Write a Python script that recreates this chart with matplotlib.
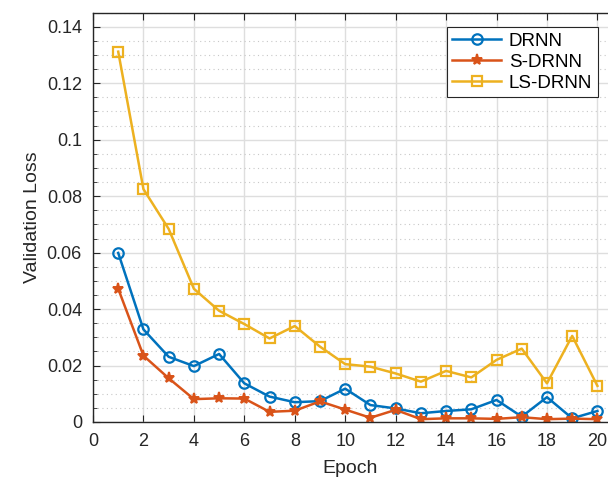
import matplotlib
matplotlib.use("Agg")
import matplotlib.pyplot as plt
from matplotlib.ticker import MultipleLocator

plt.rcParams['font.family'] = ['Liberation Sans', 'DejaVu Sans']

epochs = list(range(1, 21))
drnn = [0.0599, 0.0328, 0.0231, 0.0198, 0.0241, 0.0137, 0.0090, 0.0070, 0.0074, 0.0118,
        0.0060, 0.0048, 0.0031, 0.0039, 0.0045, 0.0078, 0.0019, 0.0088, 0.0013, 0.0039]
s_drnn = [0.0472, 0.0235, 0.0155, 0.0081, 0.0084, 0.0083, 0.0036, 0.0040, 0.0073, 0.0044,
          0.0015, 0.0043, 0.0010, 0.0013, 0.0013, 0.0011, 0.0017, 0.0010, 0.0012, 0.0010]
ls_drnn = [0.1312, 0.0825, 0.0684, 0.0472, 0.0394, 0.0347, 0.0296, 0.0340, 0.0267, 0.0205,
           0.0196, 0.0172, 0.0143, 0.0181, 0.0158, 0.0220, 0.0260, 0.0137, 0.0305, 0.0128]
labels = ['DRNN', 'S-DRNN', 'LS-DRNN']
colors = ['#0072BD', '#D95319', '#EDB120']

W, H = 608, 478
fig = plt.figure(figsize=(W / 100, H / 100), dpi=100)
ax = fig.add_axes([93 / W, 56 / H, (608 - 93) / W, (422 - 12.7) / H])

ax.plot(epochs, drnn, color=colors[0], lw=1.8, marker='o', ms=7.5, mfc='none', mew=1.6, label=labels[0])
ax.plot(epochs, s_drnn, color=colors[1], lw=1.8, marker='*', ms=8, mfc=colors[1], mew=1.4, label=labels[1])
ax.plot(epochs, ls_drnn, color=colors[2], lw=1.8, marker='s', ms=6.5, mfc='none', mew=1.6, label=labels[2])

ax.set_xlim(0, 20.42)
ax.set_ylim(0, 0.145)
ax.xaxis.set_major_locator(MultipleLocator(2))
ax.yaxis.set_major_locator(MultipleLocator(0.02))
ax.yaxis.set_minor_locator(MultipleLocator(0.005))
ax.set_yticks([0, 0.02, 0.04, 0.06, 0.08, 0.1, 0.12, 0.14])
ax.set_yticklabels(['0', '0.02', '0.04', '0.06', '0.08', '0.1', '0.12', '0.14'])

ax.grid(True, which='major', color='#dedede', lw=1.0)
ax.grid(True, which='minor', axis='y', color='#c8c8c8', lw=0.8, ls=(0, (1, 3)))
ax.set_axisbelow(True)

for s in ['left', 'bottom', 'top']:
    ax.spines[s].set_color('#262626')
    ax.spines[s].set_linewidth(1.0)
ax.spines['right'].set_visible(False)

ax.tick_params(which='both', direction='in', top=True, right=False, colors='#262626',
               labelsize=13, labelcolor='#262626')
ax.tick_params(which='major', length=5)
ax.tick_params(which='minor', length=3)
ax.tick_params(axis='both', which='major', pad=8)

ax.set_xlabel('Epoch', fontsize=14, color='#262626', labelpad=7)
ax.set_ylabel('Validation Loss', fontsize=14, color='#262626', labelpad=4)

leg = ax.legend(loc='upper right', bbox_to_anchor=(0.98, 0.965), fontsize=13.5, frameon=True,
                fancybox=False, edgecolor='#262626', framealpha=1, handlelength=2.6,
                borderpad=0.3, labelspacing=0.2, handletextpad=0.4, borderaxespad=0)
leg.get_frame().set_linewidth(0.8)

fig.savefig('out.png', dpi=100)
